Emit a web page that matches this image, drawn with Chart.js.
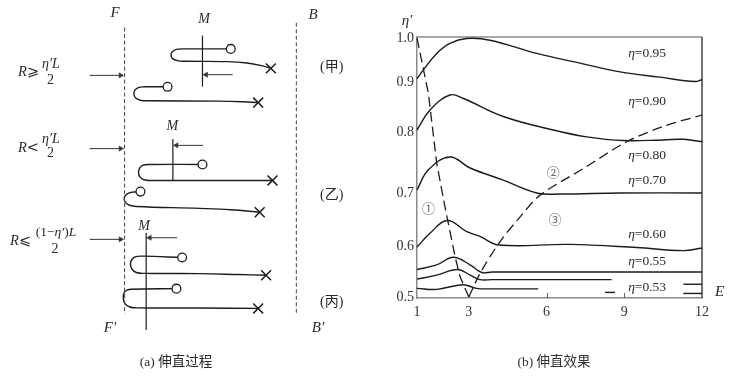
<!DOCTYPE html>
<html><head><meta charset="utf-8">
<script src="https://cdn.jsdelivr.net/npm/chart.js@4.4.1/dist/chart.umd.min.js"></script>
<style>
html,body{margin:0;padding:0;background:#fff;}
#wrap{position:relative;width:734px;height:379px;overflow:hidden;background:#fff;}
canvas{position:absolute;top:0;}
#left{left:0;} #right{left:370px;}
</style></head><body>
<div id="wrap"><canvas id="left" width="370" height="379"></canvas><canvas id="right" width="364" height="379"></canvas></div>
<script>
// ================= (b) data : E vs eta' =================
const xTickValues = [1, 3, 6, 9, 12];
const yTickValues = [0.5, 0.6, 0.7, 0.8, 0.9, 1.0];
const yTickLabels = ['0.5', '0.6', '0.7', '0.8', '0.9', '1.0'];
// printed axis is not evenly spaced: relative offsets of the tick marks
const yTickOffsets = [0, 51, 104, 165, 215, 259];

const curve095 = [[1,0.907],[1.24,0.927],[1.76,0.965],[2.27,0.988],[2.92,0.999],[3.82,0.995],[5.62,0.965],[7.29,0.943],[8.84,0.923],[10.38,0.911],[11.73,0.901],[12,0.905]];
const curve090 = [[1,0.804],[1.5,0.844],[2.27,0.874],[2.79,0.867],[4.33,0.831],[6.26,0.804],[7.55,0.792],[8.96,0.786],[10.5,0.787],[11.28,0.788],[12,0.784]];
const curve080 = [[1,0.705],[1.44,0.738],[2.27,0.759],[3.05,0.741],[4.33,0.721],[5.62,0.700],[6.52,0.698],[8.84,0.700],[12,0.700]];
const curve060 = [[1,0.598],[1.5,0.624],[2.17,0.648],[2.92,0.627],[3.43,0.618],[4.14,0.602],[6.9,0.603],[9.48,0.597],[11.28,0.591],[12,0.596]];
const curve055 = [[1,0.554],[1.76,0.563],[2.4,0.578],[3.05,0.563],[3.5,0.548],[3.9,0.549],[12,0.549]];
const curve053a = [[1,0.535],[1.76,0.543],[2.56,0.554],[3.05,0.543],[3.43,0.534],[3.9,0.534],[8.51,0.534]];
const curve053b = [[1,0.517],[1.76,0.515],[2.77,0.524],[3.3,0.517],[3.8,0.516],[5.68,0.516]];
const stubMid = [[8.26,0.509],[8.64,0.509]];
const stubRightHigh = [[11.28,0.525],[12,0.525]];
const stubRightLow = [[11.28,0.507],[12,0.507]];
const boundary1 = [[1,1.0],[1.44,0.877],[1.76,0.749],[2.08,0.674],[2.47,0.579],[2.66,0.540],[3.0,0.5]];
const boundary2 = [[3.0,0.5],[3.43,0.546],[4.2,0.608],[4.98,0.655],[5.75,0.696],[7.42,0.740],[9.09,0.784],[10.5,0.811],[12,0.834]];
const etaLabels = ['0.95','0.90','0.80','0.70','0.60','0.55','0.53'];
const etaLabelLevels = [0.965,0.862,0.762,0.720,0.622,0.569,0.518];
const regionLabels = ['①','②','③'];
const regionAt = [[1.44,0.671],[6.26,0.735],[6.33,0.650]];

function warp(v){
  const V = yTickValues, O = yTickOffsets;
  let i = 0;
  if (v >= V[V.length-1]) i = V.length-2;
  else { while (i < V.length-2 && v > V[i+1]) i++; }
  return O[i] + (v - V[i]) / (V[i+1] - V[i]) * (O[i+1] - O[i]);
}
const SERIF = "'Liberation Serif','Times New Roman','Noto Sans CJK SC',serif";
const INK = '#1c1c1c';
function drawRich(ctx, segs, x, y, size, align, color){
  const fonts = segs.map(s => (s.i ? 'italic ' : '') + size + 'px ' + (s.f || SERIF));
  let total = 0; const ws = [];
  segs.forEach((s,k) => { ctx.font = fonts[k]; const w = ctx.measureText(s.t).width; ws.push(w); total += w; });
  let cx = align === 'center' ? x - total/2 : (align === 'right' ? x - total : x);
  ctx.textAlign = 'left'; ctx.textBaseline = 'middle'; ctx.fillStyle = color || '#2a2a2a';
  segs.forEach((s,k) => { ctx.font = fonts[k]; ctx.fillText(s.t, cx, y); cx += ws[k]; });
}
function ser(arr, opt){
  return Object.assign({
    data: arr.map(p => ({x: p[0], y: warp(p[1])})),
    showLine: true, borderColor: INK, borderWidth: 1.4, pointRadius: 0,
    tension: 0.4, fill: false, clip: false
  }, opt || {});
}

const rightDecor = {
  id: 'rightDecor',
  beforeDatasetsDraw(chart){
    const {ctx, chartArea: a, scales: {x}} = chart;
    ctx.save();
    ctx.lineWidth = 1.5;
    ctx.strokeStyle = '#8a8a8a';
    ctx.beginPath(); ctx.moveTo(a.left, a.top); ctx.lineTo(a.right, a.top); ctx.stroke();
    ctx.strokeStyle = '#444';
    ctx.beginPath(); ctx.moveTo(a.right, a.top); ctx.lineTo(a.right, a.bottom); ctx.stroke();
    ctx.strokeStyle = '#666'; ctx.lineWidth = 1;
    [6, 9].forEach(v => { const px = Math.round(x.getPixelForValue(v)) + 0.5; ctx.beginPath(); ctx.moveTo(px, a.bottom); ctx.lineTo(px, a.bottom - 5); ctx.stroke(); });
    ctx.restore();
  },
  afterDraw(chart){
    const {ctx, scales: {x, y}} = chart;
    ctx.save();
    drawRich(ctx, [{t:'η′', i:true}], 37, 21, 15, 'center');
    drawRich(ctx, [{t:'E', i:true}], 345, 292.5, 15, 'left');
    etaLabels.forEach((t, k) => {
      drawRich(ctx, [{t:'η', i:true}, {t:'=' + t}], x.getPixelForValue(9.15), y.getPixelForValue(warp(etaLabelLevels[k])), 13.5, 'left');
    });
    regionLabels.forEach((t, k) => {
      drawRich(ctx, [{t: t, f: "'Noto Sans CJK SC',sans-serif"}], x.getPixelForValue(regionAt[k][0]), y.getPixelForValue(warp(regionAt[k][1])), 13, 'center', '#666');
    });
    drawRich(ctx, [{t:'(b) 伸直效果', f:"'Liberation Serif','Noto Sans CJK SC',serif"}], 184, 362, 13.5, 'center', '#333');
    ctx.restore();
  }
};

new Chart(document.getElementById('right'), {
  type: 'scatter',
  data: { datasets: [
    ser(curve095), ser(curve090), ser(curve080), ser(curve060), ser(curve055),
    ser(curve053a), ser(curve053b),
    ser(stubMid, {tension:0}), ser(stubRightHigh, {tension:0}), ser(stubRightLow, {tension:0}),
    ser(boundary1, {tension:0, borderDash:[10,5], borderWidth:1.3}),
    ser(boundary2, {tension:0.3, borderDash:[10,5], borderWidth:1.3})
  ]},
  options: {
    responsive: false, animation: false, devicePixelRatio: 1, events: [],
    layout: { padding: { top: 37, right: 32, left: 0, bottom: 0 } },
    plugins: { legend: { display: false }, tooltip: { enabled: false } },
    scales: {
      x: {
        type: 'linear', min: 1, max: 12,
        afterFit(s){ s.height = 81; },
        afterBuildTicks(s){ s.ticks = xTickValues.map(v => ({value: v})); },
        ticks: { font: { family: SERIF, size: 14 }, color: '#333', padding: 6, maxRotation: 0, autoSkip: false, callback: v => String(v) },
        grid: { display: false, drawTicks: false },
        border: { display: true, color: '#8a8a8a', width: 1.5 }
      },
      y: {
        type: 'linear', min: -1, max: 260,
        afterFit(s){ s.width = 47; },
        afterBuildTicks(s){ s.ticks = yTickValues.map(v => ({value: warp(v)})); },
        ticks: { font: { family: SERIF, size: 14 }, color: '#333', padding: 3, autoSkip: false, callback: (v, i) => yTickLabels[i] },
        grid: { display: false, drawTicks: false },
        border: { display: true, color: '#8a8a8a', width: 1.5 }
      }
    }
  },
  plugins: [rightDecor]
});

// ================= (a) schematic, in figure units =================
const guideF = [[121.7,20],[121.7,320]];
const guideB = [[301.7,15],[301.7,318.5]];
const fiberJia1 = [[233,42.3],[185,42.3],[176,42.8],[171.5,45.5],[170.3,49],[172,52.5],[177,54.6],[186,55.2],[230,55.6],[250,57],[264,59.5],[275,62.7]];
const fiberJia2 = [[166.7,82],[142,82],[136,82.8],[132.5,85.5],[131.5,89.5],[133,93.5],[138,96],[148,96.6],[220,97],[245,97.6],[261.7,98.5]];
const fiberYi1 = [[203.3,163.3],[148,163.3],[141,164],[137.5,167],[136.3,171.5],[137.5,176],[142,179.3],[150,180],[276.7,180]];
const fiberYi2 = [[138.3,191.7],[130,192.3],[124.5,194],[121.3,198],[122.5,203],[127,206],[134,207.3],[200,209.3],[233,210.7],[263.3,213.3]];
const fiberBing1 = [[182,260.7],[140,259.3],[133.5,259.8],[129.5,262.5],[127.8,267.5],[129.5,273],[134,276.4],[142,277.3],[200,277.6],[240,278.5],[270,279.3]];
const fiberBing2 = [[176,293.3],[128,294],[123,295.5],[120.6,299],[120.4,304],[122,309],[127,312.5],[135,313.4],[200,313.6],[261.7,314]];
const fiberHeads = [[233,42.3],[166.7,82],[203.3,163.3],[138.3,191.7],[182,260.7],[176,293.3]];
const fiberTails = [[275,62.7],[261.7,98.5],[276.7,180],[263.3,213.3],[270,279.3],[261.7,314]];
const lineMJia = [[203.3,28.3],[203.3,81.7]];
const lineMYi = [[172.3,136.7],[172.3,180]];
const lineMBing = [[144.3,235],[144.3,336.7]];
const arrowsToM = [[[235,69.3],[207,69.3]],[[204,143.3],[176,143.3]],[[176.7,240],[148,240]]];
const arrowsToF = [[[85,70],[117.5,70]],[[85,146.7],[117.5,146.7]],[[85,241.7],[117.5,241.7]]];

function pts(arr){ return arr.map(p => ({x:p[0], y:p[1]})); }
function pathSet(arr, opt){
  return Object.assign({ data: pts(arr), showLine: true, borderColor: INK, borderWidth: 1.4, pointRadius: 0, tension: 0.4, clip: false, order: 2 }, opt || {});
}
function arrowSet(arr, dir){
  return { data: pts(arr), showLine: true, borderColor: '#333', borderWidth: 1, tension: 0, clip: false, order: 1,
    pointRadius: [0, 3], pointStyle: 'triangle', pointRotation: [0, dir], pointBackgroundColor: '#333', pointBorderColor: '#333', pointBorderWidth: 0.5 };
}
const leftSets = [
  pathSet(guideF, {borderDash:[4,2.5], borderWidth:1, borderColor:'#444', tension:0}),
  pathSet(guideB, {borderDash:[4,2.5], borderWidth:1, borderColor:'#444', tension:0}),
  pathSet(fiberJia1), pathSet(fiberJia2), pathSet(fiberYi1), pathSet(fiberYi2), pathSet(fiberBing1), pathSet(fiberBing2),
  pathSet(lineMJia, {tension:0, borderWidth:1.2}), pathSet(lineMYi, {tension:0, borderWidth:1.2}), pathSet(lineMBing, {tension:0, borderWidth:1.2}),
  { data: pts(fiberHeads), showLine: false, pointStyle: 'circle', pointRadius: 4.4, pointBackgroundColor: '#fff', pointBorderColor: INK, pointBorderWidth: 1.3, clip: false, order: 0 },
  { data: pts(fiberTails), showLine: false, pointStyle: 'crossRot', pointRadius: 7, pointBorderColor: INK, pointBorderWidth: 1.5, clip: false, order: 0 }
];
arrowsToM.forEach(a => leftSets.push(arrowSet(a, -90)));
arrowsToF.forEach(a => leftSets.push(arrowSet(a, 90)));

const leftText = [
  {s:[{t:'F', i:true}], x:115, y:13, z:15},
  {s:[{t:'B', i:true}], x:313, y:15, z:15},
  {s:[{t:'F′', i:true}], x:110, y:328, z:15},
  {s:[{t:'B′', i:true}], x:318, y:328, z:15},
  {s:[{t:'M', i:true}], x:204, y:19, z:14},
  {s:[{t:'M', i:true}], x:172.3, y:126, z:14},
  {s:[{t:'M', i:true}], x:144, y:226, z:14},
  {s:[{t:'(甲)'}], x:331.7, y:67, z:14},
  {s:[{t:'(乙)'}], x:331.7, y:195, z:14},
  {s:[{t:'(丙)'}], x:331.7, y:302, z:14},
  {s:[{t:'R', i:true}, {t:'⩾', f:"'DejaVu Serif','DejaVu Sans',serif"}], x:18, y:72.5, z:14.5, a:'left'},
  {s:[{t:'η′L', i:true}], x:51, y:64, z:14},
  {s:[{t:'2'}], x:50.5, y:80, z:14},
  {s:[{t:'R', i:true}, {t:'<', f:"'DejaVu Serif','DejaVu Sans',serif"}], x:18, y:148, z:14.5, a:'left'},
  {s:[{t:'η′L', i:true}], x:51, y:139, z:14},
  {s:[{t:'2'}], x:50.5, y:153, z:14},
  {s:[{t:'R', i:true}, {t:'⩽', f:"'DejaVu Serif','DejaVu Sans',serif"}], x:10, y:241, z:14.5, a:'left'},
  {s:[{t:'(1−'}, {t:'η′', i:true}, {t:')'}, {t:'L', i:true}], x:56, y:232.5, z:13.5},
  {s:[{t:'2'}], x:55, y:249, z:14},
  {s:[{t:'(a) 伸直过程', f:"'Liberation Serif','Noto Sans CJK SC',serif"}], x:176, y:362, z:13.5}
];
const leftDecor = {
  id: 'leftDecor',
  afterDraw(chart){
    const ctx = chart.ctx; ctx.save();
    leftText.forEach(o => drawRich(ctx, o.s, o.x, o.y, o.z, o.a || 'center', '#2a2a2a'));
    ctx.restore();
  }
};
new Chart(document.getElementById('left'), {
  type: 'scatter',
  data: { datasets: leftSets },
  options: {
    responsive: false, animation: false, devicePixelRatio: 1, events: [],
    layout: { padding: 0 },
    plugins: { legend: { display: false }, tooltip: { enabled: false } },
    scales: {
      x: { type: 'linear', display: false, min: 0, max: 370 },
      y: { type: 'linear', display: false, min: 0, max: 379, reverse: true }
    }
  },
  plugins: [leftDecor]
});
</script>
</body></html>
